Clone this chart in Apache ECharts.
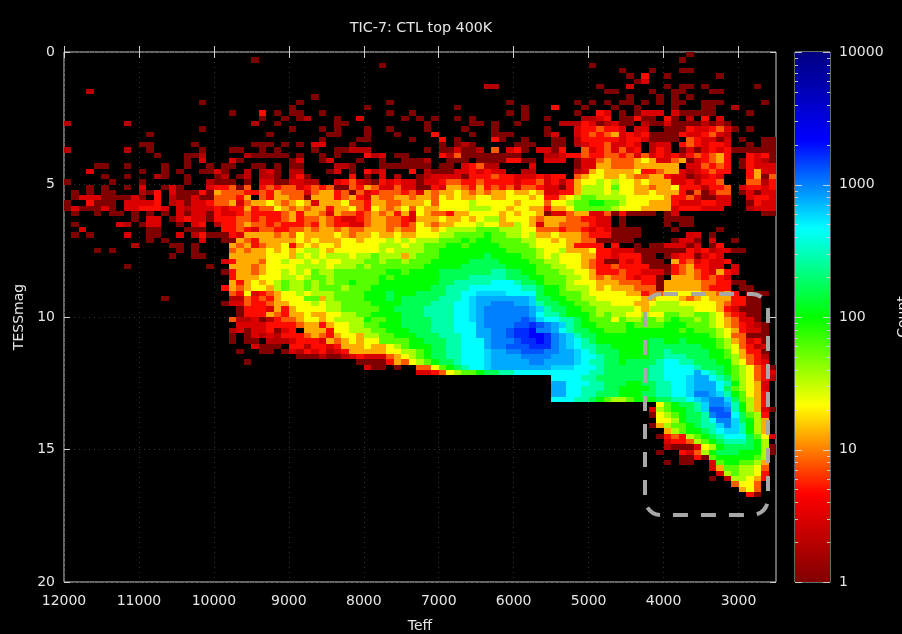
<!DOCTYPE html>
<html><head><meta charset="utf-8">
<style>html,body{margin:0;padding:0;background:#000}#c{width:902px;height:634px}</style>
<script src="https://cdn.jsdelivr.net/npm/echarts@6/dist/echarts.min.js"></script>
</head><body><div id="c"></div>
<script>
// Count per level letter; '.' = empty bin, '-' = ten empty bins. Letters q,r,s are the in-between blue levels.
const levelCounts={a:1,b:2,c:3,d:5,e:8,f:13,g:22,h:36,i:60,j:100,k:167,l:278,m:464,q:600,n:774,r:1000,o:1292,s:1668,p:2154};
const teffTicks=[12000,11000,10000,9000,8000,7000,6000,5000,4000,3000];
const countMajorTicks=[1,10,100,1000,10000];
const countMinorTicks=[2,3,4,5,6,7,8,9,20,30,40,50,60,70,80,90,200,300,400,500,600,700,800,900,2000,3000,4000,5000,6000,7000,8000,9000];
const palette=['#800000','#ff0000','#ffff00','#00ff00','#00ffff','#0000ff','#000080'];
// each row = 0.2 mag, starting at TESSmag 0; each group = 10 bins of 100 K, starting at 12000 K
const rowsBright=[
"- - - - - - - - ...a...... -",
"- - .....a.... - - - - - ..a....... -",
"- - - - ..a....... - - a......... - -",
"- - - - - - - ....a...a. ..aa...... -",
"- - - - - - - .....a.d.. a......a.. -",
"- - - - - - - ......ac.. - -",
"- - - - - ......bb.. - .a...c.... a.aa.a.... ..a..",
"...b...... - - - - - - ..aa....a. .aa...aa.. -",
"- - - ...a...... - - - .....a...a .a.a...... -",
"- ........a. - .a........ ...a...... .........a ........a. a.a.aa.a.a .aa..aaa.. ...a.",
"- - - a......... a......... ..a....... .a...d...a ...a..a... .a...aa..b -",
"- - ..a...d.a. aa..a..... ...a..a... .........a .a......a. .dc.a.accc .caaaaa... .a...",
"- - ......a..a .ab...a..c .....a.a.a ..a.a..... .a..a....b bcd.aadaa. da.b.d.c.. -",
"b.......b. - .....b..a. ......aa.. ........a. ....aa.a.. a.....bbbd cabcaa.baa caaaababa. -",
"- ........a. - a...a.a... a..a....a. ...a...a.. ....a...cd deddc.cc.. aaadccdeca .a...",
"- .a........ .......a.. .....aa... a...a....d ....a..aaa ....ac..cd edefcdcdaa aadccdecb. -",
"- - - ....a....a a.....a... d.a....da. .a...aa.bd ddddcddcaa aa.edccac. a..aa",
"- aa.....a.. .....aaa.a .a.cc...a. - a.aba..... aaa..aa.bc ddeccdc.bc c.dedcddc. .a.aa",
"b.......b. .a......a. ..aa..a.a. ...a..aabb b.......a. aacaab.e.c da.ccad..e cdececd.bd c.acacdcda aaaaa",
"- ..a...aab. ....baaaaa .a..a.a... dbc.aa.... dbeaaaaaaa a...bbcdde ddeedececd cdbdedefd. .dcda",
"- ......a.c. ..ca...... ac..ac...a ..a..aaab. .aaa.aaaad daa.ccc.ac cefeeefgfc cefacdefd. adcba",
"....aa..a. ...a..a..a .aa..aa.a. aa....bba. ..aaaaaaa. aa.cdebb.. ..c.....ac cffeeeffff ff.cceded. adccc",
"...c...... a..a.a..aa ca..b.bca. bb...ac.a. dbc...d.ba aaccdcdcc. .bb.....bc fgffffgdde ffcbcdedd. .dfcc",
".....a..a. ..ba..a... ab.ab.bba. bda.....d. a.c.b..abc cccadddedd cccdcdd.ef ggffgfeeff dccabcdc.. .dfae",
"a.....a... a.....a..b aaa.a.ccaa ccbb..cdec badcdccacc deeddedddd cddecdbdfg ghghggfgff fccdbdde.. .eebd",
"...a.a..a. c..aca...c ddeae.dede ecdedeaaed fecceccaad cffedfdede ceedccadfh hhgiggffef fgdddbdde. cddcd",
".a.a.aa... bad.caaada feeeddedfe eeceffdeae cdeeedecfe ffgfefeffg ffgfccddfh hhghggffgf ffdaeacee. acacc",
".acccaaaac a.d.baacaa eeedf.edff eeafffdefd cfeeffeffe gfgffggffg ggfgddfghi ihhhhggggg fddecaacc. .cddc",
"a..daaa.cc ccd.bcaccd eefceffgfe fgfcfffgee dffeefffge gggghggggg fgggegghii jjiihgggff fdcccddcc. .adcc",
"acaaaca.cc dddc.cbccc dcddfdeegf efeffdffge dgfefgegff gggghhhggf ggffdffgii iiihgggfff fcdddccc.. .bccc",
".a..a.aa.a .a.a.cacca dccdedddde fdffecfeed efefdfcgfe edffggggfg fggfacceff cceadaaaa. ac........ ...aa"
];
const rowsMiddle=[
".........a .cc.acdcca dddeededde fdeefedccd effeedcfff gffgfghhfg ggfefffeed dcc.a..... aaaa...... -",
".a.....cb. acc..a.cd. bddefeeded ddedfeddcc effeedegfe ffggghggff hgfcffeeee dcc.a..... a.aa...... -",
"..c....... .aa...aaa. .ddedceedd eefeffefee fffefeeggf ghhhhiiihh hggeeedeed cdcaaaa... .a.....a.. -",
".a.a....c. .aa..c.bda aadcffffef egffffgfef fgffgffggg hhiiiijiih hghffgfffe dddaaaa... ...cc.a... -",
"- .a.a....c. .aafedffff fgfgfffggf ggghghghhh iiijijjiii ihhggfgffe eaaaaa.... .acca.c..a -",
".........b ....aa.a.. ..fefdeffg dfgfggfggg gghhhghhii ijjijjjjii iihggggfdd dd.d..a.aa cccac.ad.. -",
"....a.a... .....a.a.. ..efeffgfg fghhgfgggg gghghhhhii jjjjjjjjji iiihgghfff gddcccaaaa aaadcdbcca a....",
"- ....a..aa. ..fffffggg fhghghhhgh hihhhfhiii jjjjjjkjjj jiihghgggf fddcdddaa. acddacdc.. -",
"- - .cdfffeggh gghghgghhh iihiihiiij jjjjkkkkjj jjiihhgggf edaadcdaaa .fdecdccd. -",
"........a. .........a ..fffefggg ghhhhghhhi hiiiiiiijj jjjkkkkkkj jjjiihhggf eddeddddaa adefddcc.c -",
"- - .adffefggh ghgihhiiii iiijjijjjj kkkkkkkllk kjjiiihhgg fdddeddccc adefedcfdc -",
"- - ..dfffgggh hghiihiiii iijijjjjjj kkkklllllk kkjjiiihhg fefeedcdda .fffededc. -",
"- - ..fdfgfghi hhihihiiji iijjjjjjjj kklllllmmm lkkjiiihgg gfffeeedda fffffeedda a....",
"- - .dfefggfhi hhihiiihii ijjjjjjjjk klllmmmmmm mllkjjihhh gfgfffeeea fffffeddd. aa...",
"- - ..edgcdefg ghghhhiiii jjjkjjjkkk kllmmqqqqm mmmkjjiiih gggggffdee gggggffefd .aaa.",
"- ...a...... ..bbededfg ggiifhiiii jjjkjkkkkk lllmqnnnnn nnqkkjjiih hggggggffg ggfefgfffd daa..",
"- - .acceddeff ggghghhiii ijjjjkkkkl llmmqnnrrr nnqlkkjjii hhhgggffgh hhgggggfed daa..",
"- - ...adddcfd fgggghhiii iijjkkkkll llmmqnrrrr rrnqlkkjji ihhhhhgfhh hhhhgggfdc aaa..",
"- - ...adddfed ffgffgghhi ijjjjkkkll llmmqnrrrr rrnmllkjjj ihihhgghgg iihhiihged caa..",
"- - ..ebbcabde efggfghhhh jiijjkkkkl llmmqnrrrr rorqmmllkj iiigihhiih ijiihihgfe cca..",
"- - ...ccccddd deffdfgghh iijjjkkkkl llmmmnrrrr oosornqlkj jiiiijiiii jjjiiihgfe dcba.",
"- - ..bcaccdac d.fffdgghh hiijjjkkkl llmmmnnrro ssprrnmlkk jjiiijjjjj jjijiiihgf dcca.",
"- - ..a.acbcbd ddefedfggf hhiijjjkkk lllmmnnrro ssppsrnqlk kjjjjjjjjj jjjjjjihge eaaa.",
"- - ..a.aa.bbb cdddcfefgf ggiiiijjkk kllmmmnrrr osspsrnqml kjjjjjjjkk jjkjjjjihf ecda.",
"- - .....caaa. ddbddcdfff gffghijjjk kllmmmnrro oosssrnqml lkkjjjjjkk kkkkkjjihg edbc.",
"- - ...a..aa.a cbdcdbcdff fffgghhijk kllmmmqnnr rooorrnnqm lkkkjjjjkk lkkkkkjjig fdda."
];
const rowsFaint=[
"- - - .aaabaabcd cccefghijk kllmmmqnnn nrrrrnnnqm mlkkjjjjkk lllkkkjjih fedb.",
"- - ....a..... .........a aaadfeghij kklmmmqnnn nnrrnnnnqm llkkjkkkkl mmllkkkjjh gedc.",
"- - - - caa.a..eeg ijklmmqnnn nnnnnqqqmm mlkkkkkkll mmmmlkkkji hgeda",
"- - - - .......ccd eghiijkkll mmmmmmmmmm llkkkkkkll mmmmnmlkji hgedc",
"- - - - - - .....mmmml lkkkkkkkll mmmqnnmlki hgedb",
"- - - - - - .....nnmmm llkkkjjkkl lmmqnnnmlj hgfc.",
"- - - - - - .....nnmml llkkjjjjkl lmmqnnnmki hgfc.",
"- - - - - - .....nnmml lkkkjjjkkl lmmqrrnqlj igfd.",
"- - - - - - .....mmmll kjihhijjjk kllmqnrrqk ihfd.",
"- - - - - - - .........g ijkklqrrnl jhfd.",
"- - - - - - - ........ch ijjklqoorl jhfca",
"- - - - - - - ........ag hijkklroom kihd.",
"- - - - - - - .........g ghjkklmrrq kjhf.",
"- - - - - - - ........af hiijkllqrq ljhf.",
"- - - - - - - - fhijjklmqq ljhf.",
"- - - - - - - .........a dedhijklmm mkigc",
"- - - - - - - - cddehijkll lkjh.",
"- - - - - - - - baaacghjkk kkjha",
"- - - - - - - .........a ..dcehjkkk jjjha",
"- - - - - - - - ..aadaijjj jjih.",
"- - - - - - - - a.aa..cijj iihf.",
"- - - - - - - - ......cfii hhge.",
"- - - - - - - - .......chi hhgd.",
"- - - - - - - - ......a.bh hgfd.",
"- - - - - - - - .........e gge..",
"- - - - - - - - - fge..",
"- - - - - - - - - .da.."
];
const rows=[...rowsBright,...rowsMiddle,...rowsFaint];
const TEFF_START=12000,TEFF_BIN=100,MAG_BIN=0.2;
const cells=[];
rows.forEach((row,r)=>{
  row.split(' ').forEach((grp,g)=>{
    const s=grp==='-'?'..........':grp.padEnd(10,'.').slice(0,10);
    for(let i=0;i<10;i++){
      const n=levelCounts[s[i]];
      const c=g*10+i;
      if(!n||c>=95)continue;
      cells.push([TEFF_START-TEFF_BIN*(c+0.5),MAG_BIN*(r+0.5),Math.log10(n),n]);
    }
  });
});
const FG='#e6e6e6',LINE='#cfcfcf',FONT='"DejaVu Sans",sans-serif',FS=14;
const chart=echarts.init(document.getElementById('c'),null,{renderer:'canvas'});
const lbl={color:FG,fontFamily:FONT,fontSize:FS};
const gridLine={show:true,lineStyle:{color:'#333333',type:[1,4],width:1}};
const noLine={show:false};
chart.setOption({
  animation:false,backgroundColor:'#000',
  title:{text:'TIC-7: CTL top 400K',left:416,top:16,textAlign:'center',textStyle:{color:FG,fontFamily:FONT,fontSize:14.3,fontWeight:'normal'}},
  grid:[
    {left:64,top:52,width:712,height:530,show:true,backgroundColor:'#000',borderColor:LINE,borderWidth:1,containLabel:false,outerBoundsMode:'none'},
    {left:795,top:52,width:35,height:530,show:true,backgroundColor:'#000',borderColor:LINE,borderWidth:1,containLabel:false,outerBoundsMode:'none'}
  ],
  xAxis:[
    {type:'value',gridIndex:0,inverse:true,min:2500,max:12000,position:'bottom',axisLine:noLine,
     axisTick:{inside:true,length:6,lineStyle:{color:LINE},customValues:teffTicks},
     axisLabel:{...lbl,margin:12,customValues:teffTicks,formatter:v=>String(v),hideOverlap:false,showMinLabel:true,showMaxLabel:true},
     splitLine:gridLine,name:'Teff',nameLocation:'middle',nameGap:37,nameTextStyle:lbl},
    {type:'value',gridIndex:0,inverse:true,min:2500,max:12000,position:'top',axisLine:noLine,
     axisTick:{inside:true,length:6,lineStyle:{color:LINE},customValues:teffTicks},
     axisLabel:{show:false},splitLine:{show:false}},
    {type:'value',gridIndex:1,min:0,max:1,show:false}
  ],
  yAxis:[
    {type:'value',gridIndex:0,inverse:true,min:0,max:20,interval:5,position:'left',axisLine:noLine,
     axisTick:{inside:true,length:6,lineStyle:{color:LINE}},
     axisLabel:{...lbl,margin:9,padding:[2,0,0,0]},
     splitLine:gridLine,name:'TESSmag',nameLocation:'middle',nameGap:34,nameRotate:90,nameTextStyle:lbl},
    {type:'value',gridIndex:0,inverse:true,min:0,max:20,interval:5,position:'right',axisLine:noLine,
     axisTick:{inside:true,length:6,lineStyle:{color:LINE}},
     axisLabel:{show:false},splitLine:{show:false}},
    {type:'log',gridIndex:1,logBase:10,min:1,max:10000,position:'right',axisLine:noLine,axisTick:{show:false},
     axisLabel:{...lbl,margin:9,padding:[2,0,0,0],formatter:v=>String(Math.round(v))},splitLine:{show:false},
     name:'Count',nameLocation:'middle',nameGap:66,nameRotate:90,nameTextStyle:lbl}
  ],
  visualMap:{show:false,type:'continuous',seriesIndex:0,dimension:2,min:0,max:4,inRange:{color:palette}},
  series:[
    {type:'custom',name:'Count',coordinateSystem:'cartesian2d',xAxisIndex:0,yAxisIndex:0,data:cells,
     encode:{x:0,y:1},progressive:0,clip:true,silent:true,z:3,
     renderItem(p,api){
       const a=api.coord([api.value(0)+TEFF_BIN/2,api.value(1)-MAG_BIN/2]);
       const b=api.coord([api.value(0)-TEFF_BIN/2,api.value(1)+MAG_BIN/2]);
       const x0=Math.round(a[0]),y0=Math.round(a[1]),x1=Math.round(b[0]),y1=Math.round(b[1]);
       return {type:'rect',shape:{x:x0,y:y0,width:x1-x0,height:y1-y0},style:{fill:api.visual('color')}};
     }},
    {type:'custom',name:'colorbar',coordinateSystem:'cartesian2d',xAxisIndex:2,yAxisIndex:2,data:[[0,1,10000]],
     encode:{x:0,y:1},silent:true,z:2,
     renderItem(p,api){
       const a=api.coord([0,api.value(2)]),b=api.coord([1,api.value(1)]);
       const stops=palette.map((c,i)=>({offset:1-i/(palette.length-1),color:c}));
       return {type:'rect',shape:{x:a[0],y:a[1],width:b[0]-a[0],height:b[1]-a[1]},
         style:{fill:new echarts.graphic.LinearGradient(0,0,0,1,stops.reverse())}};
     }},
    ...[[countMinorTicks,3],[countMajorTicks,7]].map(([vals,len])=>({
      type:'custom',coordinateSystem:'cartesian2d',xAxisIndex:2,yAxisIndex:2,data:vals.map(v=>[0,v]),
      encode:{x:0,y:1},silent:true,z:4,
      renderItem(p,api){
        const l=api.coord([0,api.value(1)]),r=api.coord([1,api.value(1)]);
        const y=Math.round(l[1])+0.5,st={stroke:'#dcdcdc',lineWidth:1,opacity:0.85};
        return {type:'group',children:[
          {type:'line',shape:{x1:l[0],y1:y,x2:l[0]+len,y2:y},style:st},
          {type:'line',shape:{x1:r[0]-len,y1:y,x2:r[0],y2:y},style:st}]};
      }}))
  ],
  graphic:[{type:'rect',z:100,silent:true,shape:{x:645,y:294,width:123,height:221,r:16},
    style:{fill:'none',stroke:'#a8a8a8',lineWidth:4,lineDash:[15,13],lineDashOffset:-2}}]
});
</script></body></html>
